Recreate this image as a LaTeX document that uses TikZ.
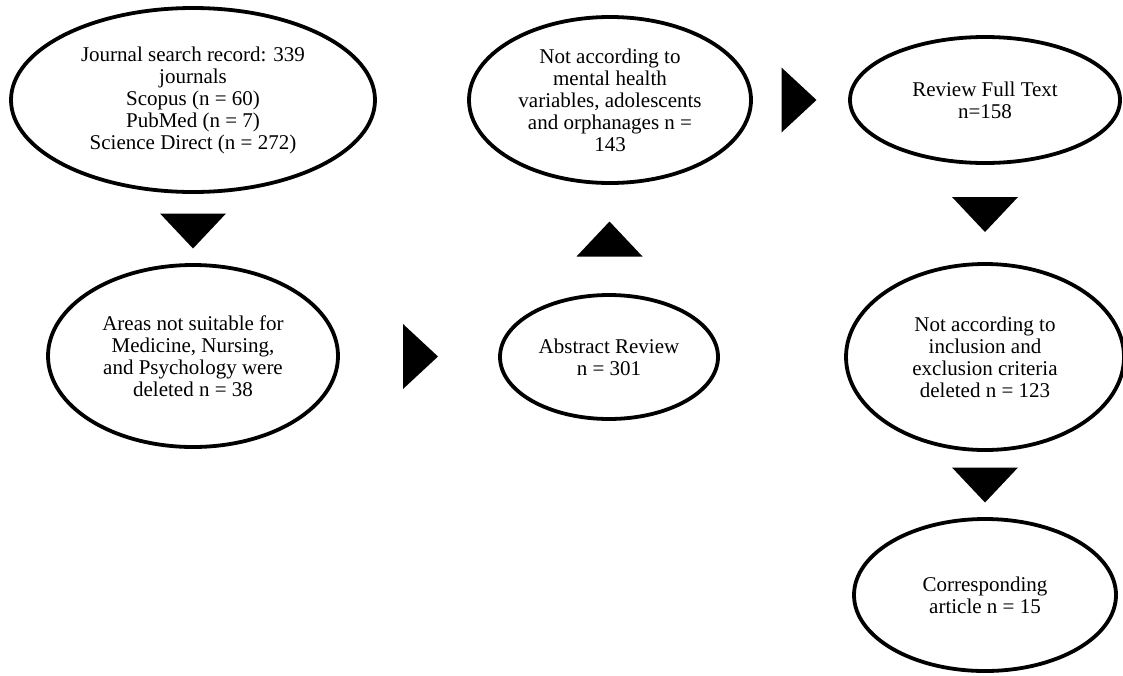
\documentclass[tikz,border=0pt]{standalone}
\usepackage{fontspec}
\setmainfont{Liberation Serif}
\usetikzlibrary{shapes.geometric,calc}

\tikzset{
  stage/.style={draw=black, line width=3.8pt, ellipse, inner sep=0pt,
    align=center, font=\fontsize{21}{22}\selectfont},
  flowtip/.style={fill=black}
}

\begin{document}
\begin{tikzpicture}[x=1pt, y=-1pt]
\useasboundingbox (0,0) rectangle (1123,675);

% stages of the literature search
\node[stage, minimum width=364pt, minimum height=184pt] (search) at (193,100)
  {Journal search record: 339\\journals\\Scopus (n = 60)\\PubMed (n = 7)\\Science Direct (n = 272)};
\node[stage, minimum width=290pt, minimum height=182pt] (areas) at (193,356)
  {Areas not suitable for\\Medicine, Nursing,\\and Psychology were\\deleted n = 38};
\node[stage, minimum width=218pt, minimum height=124pt] (abstract) at (609,357)
  {Abstract Review\\n = 301};
\node[stage, minimum width=282pt, minimum height=166pt] (mental) at (610,100)
  {Not according to\\mental health\\variables, adolescents\\and orphanages n =\\143};
\node[stage, minimum width=270pt, minimum height=126pt] (full) at (985,100)
  {Review Full Text\\n=158};
\node[stage, minimum width=278pt, minimum height=186pt] (criteria) at (985,357)
  {Not according to\\inclusion and\\exclusion criteria\\deleted n = 123};
\node[stage, minimum width=262pt, minimum height=152pt] (final) at (985,595)
  {Corresponding\\article n = 15};

% solid triangular arrows between the stages
\coordinate (m1) at ($(search.south)!0.5!(areas.north)$);
\fill[flowtip] ($(m1)+(-33,-15)$) -- ++(66,0) -- ++(-33,35) -- cycle;

\coordinate (m2) at ($(areas.east)!0.5!(abstract.west)$);
\fill[flowtip] ($(m2)+(-16,-32.5)$) -- ++(0,65) -- ++(35,-32.5) -- cycle;

\coordinate (m3) at ($(abstract.north)!0.5!(mental.south)$);
\fill[flowtip] ($(m3)+(-33,17.5)$) -- ++(66,0) -- ++(-33,-35) -- cycle;

\coordinate (m4) at ($(mental.east)!0.5!(full.west)$);
\fill[flowtip] ($(m4)+(-19,-32.5)$) -- ++(0,65) -- ++(35,-32.5) -- cycle;

\coordinate (m5) at ($(full.south)!0.5!(criteria.north)$);
\fill[flowtip] ($(m5)+(-33,-16.5)$) -- ++(66,0) -- ++(-33,35) -- cycle;

\coordinate (m6) at ($(criteria.south)!0.5!(final.north)$);
\fill[flowtip] ($(m6)+(-33,-17)$) -- ++(66,0) -- ++(-33,35) -- cycle;
\end{tikzpicture}
\end{document}
